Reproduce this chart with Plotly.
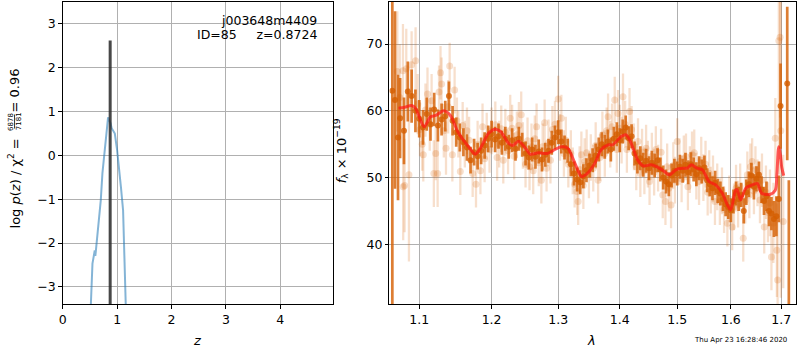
import plotly.graph_objects as go

# ---------------- left panel: p(z) ----------------
pz_z = [0.516, 0.547, 0.589, 0.60, 0.61, 0.655, 0.70, 0.73, 0.79, 0.834, 0.88, 0.90, 0.958, 1.0, 1.07, 1.11, 1.16]
pz_logp = [-3.45, -2.47, -2.17, -2.29, -2.17, -1.6, -1.02, -0.41, 0.35, 0.87, 0.73, 0.62, 0.5, 0.12, -0.72, -1.25, -3.45]
z_best = 0.8724
spike_top = 2.62
z_ticks = [0, 1, 2, 3, 4]
logp_ticks = [-3, -2, -1, 0, 1, 2, 3]

# ---------------- right panel: spectrum ----------------
dark_wave = [1.0650, 1.0684, 1.0723,
             1.075, 1.080, 1.085, 1.090, 1.095, 1.100, 1.105, 1.110, 1.115, 1.120, 1.125, 1.130, 1.135, 1.140,
             1.145, 1.150, 1.155, 1.160, 1.165, 1.170, 1.175, 1.180, 1.185, 1.190, 1.195, 1.200, 1.205, 1.210,
             1.215, 1.220, 1.225, 1.230, 1.235, 1.240, 1.245, 1.250, 1.255, 1.260, 1.265, 1.270, 1.275, 1.280,
             1.285, 1.290, 1.295, 1.300, 1.305, 1.310, 1.315, 1.320, 1.325, 1.330, 1.335, 1.340, 1.345, 1.350,
             1.355, 1.360, 1.365, 1.370, 1.375, 1.380, 1.385, 1.390, 1.395, 1.400, 1.405, 1.410, 1.415, 1.420,
             1.425, 1.430, 1.435, 1.440, 1.445, 1.450, 1.455, 1.460, 1.465, 1.470, 1.475, 1.480, 1.485, 1.490,
             1.495, 1.500, 1.505, 1.510, 1.515, 1.520, 1.525, 1.530, 1.535, 1.540, 1.545, 1.550, 1.555, 1.560,
             1.565, 1.570, 1.575, 1.580, 1.585, 1.590, 1.595, 1.600, 1.605, 1.610, 1.615, 1.620, 1.625, 1.630,
             1.635, 1.640, 1.645, 1.650, 1.655, 1.660, 1.665, 1.670, 1.675, 1.680, 1.685, 1.690, 1.695,
             1.6985, 1.7122, 1.7155]
dark_flux = [63.0, 61.6, 56.0,
             58.9, 57.0, 62.9, 62.2, 60.0, 58.8, 57.5, 59.5, 58.0, 60.2, 57.8, 58.7, 59.2, 62.2,
             58.5, 56.8, 56.0, 55.3, 54.5, 52.6, 53.8, 53.2, 54.0, 54.8, 55.8, 56.5, 55.7, 56.2,
             55.2, 55.8, 54.6, 55.6, 54.3, 55.8, 54.9, 53.6, 53.0, 54.2, 53.1, 53.9, 52.7, 53.4,
             54.0, 55.2, 56.0, 56.8, 55.4, 54.5, 54.0, 52.0, 50.6, 49.7, 49.3, 50.2, 51.1, 51.8,
             52.6, 53.3, 54.2, 55.0, 54.6, 55.4, 54.2, 55.8, 56.5, 55.6, 56.9, 57.5, 55.9, 56.2,
             53.6, 52.4, 52.9, 51.9, 52.5, 51.4, 52.2, 51.8, 52.6, 51.2, 50.0, 49.4, 49.0, 50.3,
             51.0, 50.6, 51.6, 51.0, 51.9, 50.8, 52.0, 51.2, 50.5, 51.4, 50.9, 51.5, 49.6, 49.0,
             48.4, 49.2, 48.0, 47.6, 46.8, 46.0, 45.6, 45.1, 46.4, 47.6, 46.8, 47.4, 45.0, 47.8,
             49.0, 50.3, 48.6, 49.8, 50.4, 48.2, 46.5, 47.2, 45.0, 44.6, 43.8, 44.2, 46.8,
             60.7, 64.1, 25.0]
dark_err = [40.0, 13.3, 9.4,
            6.0, 5.0, 4.5, 4.0, 3.2, 2.8, 2.6, 2.5, 2.5, 2.5, 2.4, 2.4, 2.3, 2.2,
            2.2, 2.2, 2.1, 2.1, 2.0, 2.0, 2.0, 2.0, 2.0, 2.0, 2.0, 2.0, 1.9, 1.9,
            1.8, 1.8, 1.8, 1.8, 1.8, 1.8, 1.8, 1.8, 1.8, 1.8, 1.8, 1.8, 1.8, 1.8,
            1.8, 1.8, 1.8, 1.8, 1.8, 1.8, 1.8, 1.8, 1.8, 1.8, 1.8, 1.8, 1.8, 1.8,
            1.8, 1.8, 1.8, 1.8, 1.8, 1.8, 1.8, 1.8, 1.8, 1.8, 1.8, 1.8, 1.8, 1.8,
            1.8, 1.8, 1.8, 1.8, 1.8, 1.8, 1.8, 1.8, 1.8, 1.8, 1.8, 1.8, 1.8, 1.8,
            1.8, 1.8, 1.8, 1.8, 1.8, 1.8, 1.8, 1.8, 1.8, 1.8, 1.8, 1.8, 1.8, 1.8,
            1.8, 1.8, 1.8, 1.8, 1.8, 1.8, 1.8, 1.8, 1.8, 1.8, 1.8, 1.8, 1.9, 1.9,
            1.9, 1.9, 1.9, 1.9, 2.0, 2.0, 2.1, 2.2, 2.3, 2.5, 2.7, 3.0, 3.5,
            6.4, 11.5, 24.6]

light_wave = [1.0714, 1.0745, 1.0787, 1.0790, 1.0808, 1.0830, 1.0865, 1.0900, 1.0952, 1.0980,
              1.1010, 1.1040, 1.1054, 1.1083, 1.1110, 1.1140, 1.1165, 1.1195, 1.1220, 1.1246,
              1.1265, 1.1285, 1.1300, 1.1330, 1.1360, 1.1390, 1.1410, 1.1447, 1.1478, 1.1510,
              1.1530, 1.1557, 1.1590, 1.1620, 1.1650, 1.1680, 1.1730, 1.1777, 1.1800, 1.1840,
              1.1870, 1.1900, 1.1930, 1.1970, 1.2000, 1.2054, 1.2080, 1.2110, 1.2140, 1.2170,
              1.2200, 1.2240, 1.2272, 1.2300, 1.2330, 1.2370, 1.2400, 1.2435, 1.2460, 1.2500,
              1.2530, 1.2560, 1.2590, 1.2616, 1.2640, 1.2667, 1.2700, 1.2740, 1.2760, 1.2790,
              1.2820, 1.2850, 1.2880, 1.2910, 1.2950, 1.3000, 1.3030, 1.3050, 1.3090, 1.3120,
              1.3160, 1.3200, 1.3230, 1.3260, 1.3300, 1.3316, 1.3340, 1.3368, 1.3400, 1.3420,
              1.3453, 1.3490, 1.3520, 1.3560, 1.3600, 1.3640, 1.3670, 1.3710, 1.3750, 1.3780,
              1.3804, 1.3840, 1.3870, 1.3915, 1.3950, 1.3970, 1.4000, 1.4030, 1.4054, 1.4090,
              1.4120, 1.4165, 1.4200, 1.4240, 1.4280, 1.4310, 1.4350, 1.4380, 1.4420, 1.4450,
              1.4480, 1.4510, 1.4550, 1.4590, 1.4620, 1.4660, 1.4713, 1.4742, 1.4790, 1.4820,
              1.4850, 1.4890, 1.4930, 1.4960, 1.5000, 1.5040, 1.5080, 1.5120, 1.5160, 1.5195,
              1.5230, 1.5270, 1.5311, 1.5350, 1.5400, 1.5440, 1.5480, 1.5520, 1.5560, 1.5590,
              1.5618, 1.5660, 1.5697, 1.5740, 1.5790, 1.5830, 1.5870, 1.5933, 1.5970, 1.6025,
              1.6060, 1.6100, 1.6140, 1.6180, 1.6240, 1.6280, 1.6320, 1.6360, 1.6380, 1.6415,
              1.6450, 1.6480, 1.6520, 1.6570, 1.6610, 1.6655, 1.6690, 1.6730, 1.6770, 1.6800,
              1.6840, 1.6878, 1.6910, 1.6925, 1.6950, 1.6975, 1.6990, 1.7040]
light_flux = [65.9, 62.0, 66.0, 48.6, 48.8, 66.3, 50.4, 66.9, 67.5, 61.0,
              57.2, 55.0, 53.4, 60.1, 62.5, 58.0, 61.5, 50.6, 53.6, 50.6,
              62.8, 65.7, 64.0, 57.0, 54.4, 60.6, 66.7, 53.4, 63.1, 58.5,
              56.5, 50.9, 57.8, 55.0, 57.0, 55.6, 50.6, 49.0, 55.0, 51.0,
              57.6, 52.8, 56.2, 54.2, 57.0, 57.9, 53.0, 55.0, 57.3, 52.6,
              56.8, 54.0, 58.9, 57.4, 53.2, 56.4, 57.8, 59.4, 54.8, 52.0,
              55.5, 51.6, 54.6, 51.0, 55.8, 57.6, 52.2, 49.6, 54.6, 58.2,
              51.4, 55.2, 52.6, 57.2, 58.0, 61.75, 56.0, 58.9, 53.6, 55.6,
              52.0, 53.6, 51.0, 49.0, 47.9, 46.4, 51.2, 53.4, 48.8, 52.4,
              53.7, 50.4, 53.0, 51.4, 54.8, 49.6, 53.0, 56.4, 53.6, 57.0,
              59.1, 55.0, 57.6, 61.6, 54.2, 59.6, 57.4, 55.6, 62.1, 58.0,
              54.2, 59.9, 57.2, 54.6, 51.6, 55.4, 50.6, 53.8, 51.0, 54.4,
              52.0, 49.4, 53.2, 50.8, 54.2, 51.4, 53.8, 47.4, 46.4, 51.6,
              48.4, 45.9, 51.8, 49.6, 55.4, 52.4, 49.8, 52.8, 53.1, 48.6,
              51.2, 53.4, 53.7, 50.2, 49.4, 52.6, 50.0, 52.0, 47.8, 50.6,
              48.1, 49.8, 46.4, 48.6, 46.4, 48.0, 45.2, 43.15, 46.8, 42.6,
              45.6, 48.4, 46.0, 48.6, 40.9, 46.6, 50.4, 47.4, 51.6, 52.4,
              48.0, 51.2, 49.2, 46.65, 49.6, 42.6, 47.8, 44.8, 46.2, 38.1,
              43.2, 55.9, 39.1, 34.65, 70.5, 71.0, 57.0, 43.4]
light_err = [9.0, 8.0, 7.0, 8.0, 7.0, 6.0, 13.0, 5.0, 5.0, 4.5,
             4.0, 4.0, 4.0, 4.0, 4.0, 4.0, 4.0, 5.0, 4.0, 5.0,
             4.0, 4.0, 4.0, 4.0, 4.0, 4.0, 3.5, 4.0, 3.5, 3.5,
             3.5, 3.5, 3.5, 3.5, 3.5, 3.5, 3.5, 3.5, 3.5, 3.5,
             3.5, 3.5, 3.5, 3.5, 3.5, 3.5, 3.5, 3.5, 3.5, 3.5,
             3.5, 3.5, 3.5, 3.5, 3.5, 3.5, 3.5, 3.5, 3.5, 3.5,
             3.5, 3.5, 3.5, 3.5, 3.5, 3.5, 3.5, 3.5, 3.5, 3.5,
             3.5, 3.5, 3.5, 3.5, 3.5, 3.5, 3.5, 3.5, 3.5, 3.5,
             3.5, 3.5, 3.5, 3.5, 3.5, 3.5, 3.5, 3.5, 3.5, 3.5,
             3.5, 3.5, 3.5, 3.5, 3.5, 3.5, 3.5, 3.5, 3.5, 3.5,
             3.5, 3.5, 3.5, 3.5, 3.5, 3.5, 3.5, 3.5, 3.5, 3.5,
             3.5, 3.5, 3.5, 3.5, 3.5, 3.5, 3.5, 3.5, 3.5, 3.5,
             3.5, 3.5, 3.5, 3.5, 3.5, 3.5, 3.5, 3.5, 3.5, 3.5,
             3.5, 3.5, 3.5, 3.5, 3.5, 3.5, 3.5, 3.5, 3.5, 3.5,
             3.5, 3.5, 3.5, 3.5, 3.5, 3.5, 3.5, 3.5, 3.5, 3.5,
             3.5, 3.5, 3.5, 3.5, 3.5, 3.5, 3.5, 3.5, 3.5, 3.5,
             3.5, 3.5, 3.5, 3.5, 3.5, 3.5, 3.5, 3.5, 3.5, 3.5,
             3.5, 3.5, 3.5, 3.5, 4.0, 4.0, 4.0, 4.5, 5.0, 5.0,
             6.0, 6.0, 7.0, 9.0, 20.0, 12.0, 25.0, 10.0]

model_wave = [1.073, 1.080, 1.090, 1.095, 1.100, 1.1067, 1.115, 1.122, 1.133, 1.142,
              1.152, 1.160, 1.1673, 1.1767, 1.184, 1.1957, 1.2054, 1.213, 1.2246, 1.231,
              1.2394, 1.250, 1.2568, 1.270, 1.283, 1.295, 1.305, 1.315, 1.3264, 1.337,
              1.345, 1.3586, 1.3689, 1.3804, 1.388, 1.4023, 1.4105, 1.418, 1.4304, 1.440,
              1.4537, 1.464, 1.4772, 1.4855, 1.498, 1.5095, 1.518, 1.526, 1.536, 1.5463,
              1.5585, 1.571, 1.5838, 1.5933, 1.5997, 1.6093, 1.612, 1.619, 1.6289, 1.6455,
              1.652, 1.6603, 1.6778, 1.6878, 1.691, 1.6948, 1.698, 1.701, 1.705]
model_flux = [60.4, 60.5, 60.8, 60.4, 59.1, 57.6, 59.1, 59.3, 60.0, 59.3,
              56.9, 55.6, 54.6, 53.5, 54.4, 56.65, 57.25, 56.9, 55.15, 54.8,
              55.45, 54.4, 53.5, 53.7, 53.6, 54.2, 54.6, 54.4, 52.15, 50.14,
              50.5, 52.15, 54.15, 54.9, 54.9, 56.14, 56.4, 55.4, 52.65, 51.75,
              51.9, 51.6, 50.9, 50.4, 51.2, 51.4, 51.4, 51.9, 51.4, 51.15,
              49.4, 48.9, 47.65, 45.9, 45.15, 48.15, 48.2, 46.65, 48.4, 49.0,
              49.1, 47.65, 47.5, 48.1, 50.5, 54.6, 53.5, 51.5, 50.3]
wave_ticks = [1.1, 1.2, 1.3, 1.4, 1.5, 1.6, 1.7]
flux_ticks = [40, 50, 60, 70]

FONT = "DejaVu Sans"
W, H = 800, 350
XOFF = -3.0  # small horizontal correction observed in rendering


def px(x):
    return (x + XOFF) / W


def py(y):
    return 1 - y / H


fig = go.Figure()

# p(z) curve and spike
fig.add_trace(go.Scatter(x=pz_z, y=pz_logp, mode="lines", xaxis="x", yaxis="y",
                         line=dict(color="rgba(31,119,180,0.55)", width=2), hoverinfo="skip"))
fig.add_trace(go.Scatter(x=[z_best, z_best], y=[-4.0, spike_top], mode="lines", xaxis="x", yaxis="y",
                         line=dict(color="rgba(40,40,40,0.85)", width=3), hoverinfo="skip"))

# light spectrum points
fig.add_trace(go.Scatter(x=light_wave, y=light_flux, mode="markers", xaxis="x2", yaxis="y2",
                         marker=dict(color="rgba(213,94,0,0.2)", size=7, line=dict(width=0)),
                         error_y=dict(type="data", array=light_err, color="rgba(213,94,0,0.2)",
                                      thickness=2.3, width=0),
                         hoverinfo="skip"))
# dark spectrum points
fig.add_trace(go.Scatter(x=dark_wave, y=dark_flux, mode="markers", xaxis="x2", yaxis="y2",
                         marker=dict(color="rgba(213,94,0,0.8)", size=6, line=dict(width=0)),
                         error_y=dict(type="data", array=dark_err, color="rgba(213,94,0,0.8)",
                                      thickness=2.7, width=0),
                         hoverinfo="skip"))
# model
fig.add_trace(go.Scatter(x=model_wave, y=model_flux, mode="lines", xaxis="x2", yaxis="y2",
                         line=dict(color="rgba(255,20,20,0.7)", width=3, shape="spline", smoothing=0.8),
                         hoverinfo="skip"))

axis_common = dict(showline=True, mirror=True, linecolor="black", linewidth=1,
                   ticks="outside", ticklen=3.5, tickcolor="black", tickwidth=1,
                   showgrid=True, gridcolor="#b0b0b0", gridwidth=1, zeroline=False,
                   tickfont=dict(family=FONT, size=12.5, color="black"))

fig.update_layout(
    width=W, height=H,
    margin=dict(l=0, r=0, t=0, b=0),
    paper_bgcolor="white", plot_bgcolor="white",
    showlegend=False,
    font=dict(family=FONT, color="black"),
    xaxis=dict(domain=[px(62), px(334)], range=[0, 4.975], tickvals=z_ticks, anchor="y", **axis_common),
    yaxis=dict(domain=[py(304), py(2)], range=[-3.39, 3.5], tickvals=logp_ticks, anchor="x",
               **axis_common),
    xaxis2=dict(domain=[px(390.3), px(799.3)], type="log", range=[0.0258, 0.2383],
                tickvals=wave_ticks, ticktext=[str(v) for v in wave_ticks], anchor="y2", **axis_common),
    yaxis2=dict(domain=[py(304), py(2)], range=[31.05, 76.3], tickvals=flux_ticks, anchor="x2",
                **axis_common),
)

ann = []
# left panel labels
ann.append(dict(text="j003648m4409", x=px(319.5), y=py(20), xanchor="right", yanchor="middle"))
ann.append(dict(text="ID=85\u00a0\u00a0\u00a0\u00a0\u00a0z=0.8724", x=px(319.5), y=py(34.5),
                xanchor="right", yanchor="middle"))
ann.append(dict(text="<i>z</i>", x=px(197), y=py(340), xanchor="center", yanchor="middle",
                font=dict(family=FONT, size=13)))
ann.append(dict(text="<i>λ</i>", x=px(593), y=py(340), xanchor="center", yanchor="middle",
                font=dict(family=FONT, size=13)))
# rotated y labels (left)
ann.append(dict(text="log <i>p</i>(<i>z</i>) / χ<sup>2</sup> =", x=px(14), y=py(183.5),
                xanchor="center", yanchor="middle", textangle=-90, font=dict(family=FONT, size=13)))
ann.append(dict(text="6878", x=px(9.5), y=py(121.5), xanchor="center", yanchor="middle",
                textangle=-90, font=dict(family=FONT, size=7)))
ann.append(dict(text="7181", x=px(17.8), y=py(121.5), xanchor="center", yanchor="middle",
                textangle=-90, font=dict(family=FONT, size=7)))
ann.append(dict(text="= 0.96", x=px(14), y=py(90.5), xanchor="center", yanchor="middle",
                textangle=-90, font=dict(family=FONT, size=13)))
# right y label
ann.append(dict(text="<i>f</i><sub>λ</sub> × 10<sup>\u221219</sup>", x=px(342), y=py(151),
                xanchor="center", yanchor="middle", textangle=-90, font=dict(family=FONT, size=13)))
# timestamp
ann.append(dict(text="Thu Apr 23 16:28:46 2020", x=px(743), y=py(340), xanchor="center",
                yanchor="middle", font=dict(family=FONT, size=7)))
for a in ann:
    a.setdefault("font", dict(family=FONT, size=12.5))
    a.update(xref="paper", yref="paper", showarrow=False)
fig.update_layout(annotations=ann)

fig.add_shape(type="line", xref="paper", yref="paper", x0=px(13.6), x1=px(13.6), y0=py(114.5), y1=py(128.5),
              line=dict(color="black", width=0.8))

fig.write_html("out.html", config={"displayModeBar": False},
               post_script="document.body.style.margin='0';document.body.style.overflow='hidden';")
